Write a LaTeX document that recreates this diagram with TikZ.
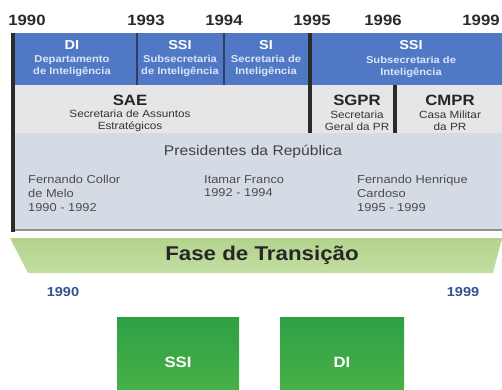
\documentclass[tikz,border=0pt]{standalone}
\usepackage{fontspec}
\setmainfont{Liberation Sans}[FakeStretch=1.12]
\usetikzlibrary{positioning}
\definecolor{bluerow}{HTML}{5078C4}
\definecolor{sepblue}{HTML}{2E3F60}
\definecolor{darkbar}{HTML}{2B2B2B}
\definecolor{grayrow}{HTML}{E6E6E8}
\definecolor{presrow}{HTML}{D5DBE5}
\definecolor{edgegray}{HTML}{8F8F8F}
\definecolor{paleblue}{HTML}{DCE5F7}
\definecolor{yeargray}{HTML}{2A2A2A}
\definecolor{yearblue}{HTML}{34528F}
\definecolor{bandtop}{HTML}{B3D38C}
\definecolor{bandbot}{HTML}{C3DEA2}
\definecolor{boxtop}{HTML}{2E9F45}
\definecolor{boxbot}{HTML}{4DB646}
\begin{document}
\begin{tikzpicture}[x=1bp, y=-1bp,
  year/.style={font=\fontsize{15}{15}\selectfont\bfseries, text=yeargray, inner sep=0pt},
  head/.style={font=\fontsize{13}{13}\selectfont\bfseries, text=white, inner sep=0pt},
  headsub/.style={font=\fontsize{10}{12.5}\selectfont\bfseries, text=paleblue, align=center, inner sep=0pt},
  org/.style={font=\fontsize{15}{15}\selectfont\bfseries, text=black!85, inner sep=0pt},
  orgsub/.style={font=\fontsize{10.5}{12}\selectfont, text=black!80, align=center, inner sep=0pt},
  pres/.style={font=\fontsize{11.5}{13.8}\selectfont, text=black!70, align=left, anchor=north west, inner sep=0pt},
  gbox/.style={anchor=north, minimum height=90bp, top color=boxtop, bottom color=boxbot,
    font=\fontsize{15}{15}\selectfont\bfseries, text=white}]
  \useasboundingbox (0,0) rectangle (502,389);
  % table rows
  \fill[bluerow] (15,33) rectangle (502,85);
  \fill[grayrow] (15,85) rectangle (502,133);
  \fill[presrow] (15,133) rectangle (502,230);
  \draw[line width=2bp, edgegray] (15,230) -- (502,230);
  \fill[darkbar] (11,33) rectangle (15,232);
  \draw[line width=1.5bp, sepblue] (137,33) -- (137,85);
  \draw[line width=1.5bp, sepblue] (224,33) -- (224,85);
  \fill[darkbar] (308,33) rectangle (312,133);
  \fill[darkbar] (393,85) rectangle (397,133);
  % years
  \node[year] (y1990) at (27,20) {1990};
  \node[year] (y1993) at (146,20) {1993};
  \node[year] (y1994) at (224,20) {1994};
  \node[year] (y1995) at (312,20) {1995};
  \node[year] (y1996) at (383,20) {1996};
  \node[year] (y1999) at (481,20) {1999};
  % organs
  \node[head] (di) at (72,45) {DI};
  \node[headsub] (diname) at (72,66) {Departamento\\de Inteligência};
  \node[head] (ssia) at (180,45) {SSI};
  \node[headsub] (ssianame) at (180,66) {Subsecretaria\\de Inteligência};
  \node[head] (si) at (266,45) {SI};
  \node[headsub] (siname) at (266,66) {Secretaria de\\Inteligência};
  \node[head] (ssib) at (411,45) {SSI};
  \node[headsub] (ssibname) at (411,67) {Subsecretaria de\\Inteligência};
  \node[org] (sae) at (130,100) {SAE};
  \node[orgsub] (saename) at (130,121) {Secretaria de Assuntos\\Estratégicos};
  \node[org] (sgpr) at (357,100) {SGPR};
  \node[orgsub] (sgprname) at (357,121) {Secretaria\\Geral da PR};
  \node[org] (cmpr) at (450,100) {CMPR};
  \node[orgsub] (cmprname) at (450,121) {Casa Militar\\da PR};
  % presidents
  \node[font=\fontsize{14}{14}\selectfont, text=black!75, inner sep=0pt] (presid) at (253,152) {Presidentes da República};
  \node[pres] (collor) at (28,175) {Fernando Collor\\de Melo\\1990 - 1992};
  \node[pres] (itamar) at (204,175) {Itamar Franco\\1992 - 1994};
  \node[pres] (fhc) at (357,175) {Fernando Henrique\\Cardoso\\1995 - 1999};
  % transition
  \shade[top color=bandtop, bottom color=bandbot] (10,238) -- (502,238) -- (493,273) -- (28,273) -- cycle;
  \node[font=\fontsize{20}{20}\selectfont\bfseries, text=black!85, inner sep=0pt] (fase) at (262,255) {Fase de Transição};
  \node[font=\fontsize{13}{13}\selectfont\bfseries, text=yearblue, inner sep=0pt] (t1990) at (63,292) {1990};
  \node[font=\fontsize{13}{13}\selectfont\bfseries, text=yearblue, inner sep=0pt] (t1999) at (463,292) {1999};
  \node[gbox, minimum width=122bp] (ssibox) at (178,317) {SSI};
  \node[gbox, minimum width=124bp] (dibox) at (342,317) {DI};
\end{tikzpicture}
\end{document}
